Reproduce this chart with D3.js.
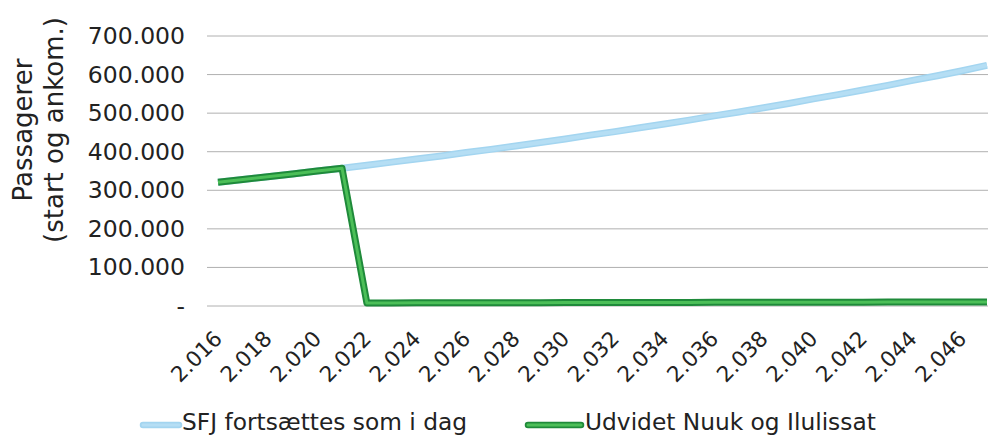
<!DOCTYPE html>
<html>
<head>
<meta charset="utf-8">
<script src="https://cdn.jsdelivr.net/npm/d3@7"></script>
<style>
  body { margin: 0; background: #fff; }
  text { font-family: "DejaVu Sans", Verdana, sans-serif; fill: #222; }
</style>
</head>
<body>
<div class="container"></div>
<script>
const WIDTH = 988;
const HEIGHT = 439;

const years = [2016, 2017, 2018, 2019, 2020, 2021, 2022, 2023, 2024, 2025, 2026,
  2027, 2028, 2029, 2030, 2031, 2032, 2033, 2034, 2035, 2036, 2037, 2038, 2039,
  2040, 2041, 2042, 2043, 2044, 2045, 2046, 2047];

// SFJ fortsættes som i dag
const sfj = [321000, 328000, 335000, 342000, 350000, 357000, 365000, 373000,
  381000, 389000, 398000, 406000, 415000, 424000, 433000, 443000, 452000,
  462000, 472000, 482000, 493000, 503000, 514000, 525000, 537000, 548000,
  560000, 572000, 585000, 597000, 610000, 624000];

// Udvidet Nuuk og Ilulissat
const udvidet = [321000, 328000, 335000, 342000, 350000, 357000, 8000, 8100,
  8200, 8300, 8400, 8500, 8600, 8700, 8800, 8900, 9000, 9100, 9200, 9300,
  9400, 9500, 9600, 9700, 9800, 9900, 10000, 10100, 10200, 10300, 10400, 10500];

const yTicks = [0, 100000, 200000, 300000, 400000, 500000, 600000, 700000];
const xTickYears = [2016, 2018, 2020, 2022, 2024, 2026, 2028, 2030, 2032,
  2034, 2036, 2038, 2040, 2042, 2044, 2046];

const legendNames = ['SFJ fortsættes som i dag', 'Udvidet Nuuk og Ilulissat'];

var fmt = function (v) {
  if (v === 0) return '-';
  return d3.format(',')(v).replace(/,/g, '.');
}

var display = function () {
  var svg = d3.select('.container').append('svg')
    .attr('width', WIDTH)
    .attr('height', HEIGHT)
    .style('background', '#fff');

  var x = d3.scalePoint().domain(years).range([218, 987]);
  var y = d3.scaleLinear().domain([0, 700000]).range([306, 36]);

  // gridlines
  svg.append('g')
    .selectAll('line')
    .data(yTicks)
    .join('line')
    .attr('x1', 207)
    .attr('x2', WIDTH)
    .attr('y1', d => y(d))
    .attr('y2', d => y(d))
    .attr('stroke', '#b0b0b0')
    .attr('stroke-width', 1);

  // y axis labels
  var yAxis = svg.append('g')
    .attr('transform', 'translate(207,0)')
    .call(d3.axisLeft(y).tickValues(yTicks).tickFormat(fmt).tickSize(0).tickPadding(22));
  yAxis.select('.domain').remove();
  yAxis.selectAll('text')
    .style('font-size', '23.5px')
    .style('font-family', '"DejaVu Sans", Verdana, sans-serif')
    .attr('fill', '#222');

  // x axis labels
  var xAxis = svg.append('g')
    .attr('transform', 'translate(0,306)')
    .call(d3.axisBottom(x).tickValues(xTickYears).tickFormat(d => fmt(d)).tickSize(0));
  xAxis.select('.domain').remove();
  xAxis.selectAll('text')
    .style('font-size', '21.5px')
    .style('font-family', '"DejaVu Sans", Verdana, sans-serif')
    .attr('fill', '#222')
    .attr('text-anchor', 'end')
    .attr('y', 0)
    .attr('dy', 0)
    .attr('transform', 'translate(5,34) rotate(-45)');

  // y axis title
  var title = svg.append('text')
    .attr('transform', 'translate(32,130) rotate(-90)')
    .attr('text-anchor', 'middle')
    .style('font-size', '26px');
  title.append('tspan').attr('x', 0).attr('dy', 0).text('Passagerer');
  title.append('tspan').attr('x', 0).attr('dy', 31).text('(start og ankom.)');

  var line = d3.line()
    .x((d, i) => x(years[i]))
    .y(d => y(d));

  svg.append('path')
    .datum(sfj)
    .attr('d', line)
    .attr('fill', 'none')
    .attr('stroke', '#a3d5f0')
    .attr('stroke-width', 7)
    .attr('stroke-linejoin', 'round');
  svg.append('path')
    .datum(sfj)
    .attr('d', line)
    .attr('fill', 'none')
    .attr('stroke', '#b5def4')
    .attr('stroke-width', 4)
    .attr('stroke-linejoin', 'round');

  svg.append('path')
    .datum(udvidet)
    .attr('d', line)
    .attr('fill', 'none')
    .attr('stroke', '#1f8a3a')
    .attr('stroke-width', 7)
    .attr('stroke-linejoin', 'round');
  svg.append('path')
    .datum(udvidet)
    .attr('d', line)
    .attr('fill', 'none')
    .attr('stroke', '#4cbf58')
    .attr('stroke-width', 3)
    .attr('stroke-linejoin', 'round');

  // legend
  var legend = [
    { name: legendNames[0], x1: 143, x2: 179, tx: 182, outer: '#a3d5f0', inner: '#b5def4' },
    { name: legendNames[1], x1: 528, x2: 581, tx: 585, outer: '#1f8a3a', inner: '#4cbf58' }
  ];
  var lg = svg.append('g').selectAll('g').data(legend).join('g');
  lg.append('line')
    .attr('x1', d => d.x1).attr('x2', d => d.x2)
    .attr('y1', 425).attr('y2', 425)
    .attr('stroke', d => d.outer)
    .attr('stroke-width', 6.5)
    .attr('stroke-linecap', 'round');
  lg.append('line')
    .attr('x1', d => d.x1).attr('x2', d => d.x2)
    .attr('y1', 425).attr('y2', 425)
    .attr('stroke', d => d.inner)
    .attr('stroke-width', 3)
    .attr('stroke-linecap', 'round');
  lg.append('text')
    .attr('x', d => d.tx)
    .attr('y', 430)
    .style('font-size', '23.3px')
    .text(d => d.name);
}

window.onload = display;
</script>
</body>
</html>
